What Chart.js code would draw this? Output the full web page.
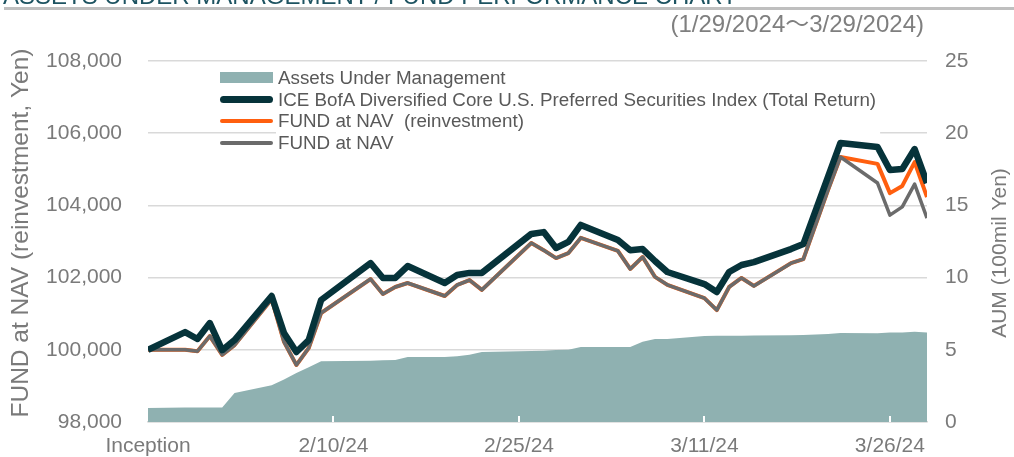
<!DOCTYPE html>
<html><head><meta charset="utf-8">
<script src="https://cdn.jsdelivr.net/npm/chart.js@4.4.1/dist/chart.umd.min.js"></script>
<style>
html,body{margin:0;padding:0;background:#fff;overflow:hidden;}
#wrap{position:relative;width:1014px;height:457px;font-family:"Liberation Sans",Arial,"Noto Sans CJK JP",sans-serif;overflow:hidden;}
#c{position:absolute;left:0;top:0;}
#title{position:absolute;left:3px;top:-16px;font-size:24px;line-height:24px;color:#1d5361;white-space:nowrap;}
#bar{position:absolute;left:4px;right:0;top:7px;height:3px;background:#bfbfbf;}
#range{position:absolute;right:90px;top:10px;font-size:24px;line-height:28px;color:#7f7f7f;white-space:nowrap;}
#legend{position:absolute;left:219px;top:67px;}
.row{display:flex;align-items:center;height:21.7px;}
.sw{width:59px;height:21.7px;position:relative;flex:none;}
.sw div{position:absolute;left:1px;width:53px;}
.tx{font-size:18.8px;line-height:21.7px;color:#595959;white-space:pre;}
</style>
</head><body>
<div id="wrap">
<canvas id="c" width="1014" height="457"></canvas>
<div id="title">ASSETS UNDER MANAGEMENT / FUND PERFORMANCE CHART</div>
<div id="bar"></div>
<div id="range">(1/29/2024～3/29/2024)</div>
<div id="legend"></div>
</div>
<script>
// ---- data ----
const dates = ['2024-01-26','2024-01-29','2024-01-30','2024-01-31','2024-02-01','2024-02-02',
  '2024-02-05','2024-02-06','2024-02-07','2024-02-08','2024-02-09','2024-02-13','2024-02-14',
  '2024-02-15','2024-02-16','2024-02-19','2024-02-20','2024-02-21','2024-02-22','2024-02-26',
  '2024-02-27','2024-02-28','2024-02-29','2024-03-01','2024-03-04','2024-03-05','2024-03-06',
  '2024-03-07','2024-03-08','2024-03-11','2024-03-12','2024-03-13','2024-03-14','2024-03-15',
  '2024-03-18','2024-03-19','2024-03-21','2024-03-22','2024-03-25','2024-03-26','2024-03-27',
  '2024-03-28','2024-03-29'];
const indexTR = [100000,100490,100300,100740,99990,100270,101490,100465,99940,100270,101380,
  102400,101990,101990,102320,101850,102070,102130,102130,103210,103260,102820,102990,103460,
  103040,102760,102790,102460,102155,101820,101600,102155,102350,102430,102790,102930,104800,
  105730,105620,104980,105010,105560,104620];
const navReinv = [100000,100000,99960,100380,99860,100130,101400,100220,99580,100050,101020,
  101960,101545,101740,101850,101490,101795,101930,101660,102960,102760,102540,102680,103100,
  102740,102240,102570,102020,101800,101430,101100,101740,101990,101770,102400,102510,104430,
  105340,105150,104340,104540,105200,104230];
const nav = [100000,100000,99960,100380,99860,100130,101400,100220,99580,100050,101020,
  101960,101545,101740,101850,101490,101795,101930,101660,102960,102760,102540,102680,103100,
  102740,102240,102570,102020,101800,101430,101100,101740,101990,101770,102400,102510,104430,
  105340,104620,103730,103960,104590,103650];
const aum = [0.97,1.0,1.0,1.0,1.0,2.0,2.55,2.95,3.4,3.8,4.2,4.25,4.27,4.3,4.5,4.5,4.55,4.65,4.85,
  4.92,4.94,4.99,5.0,5.2,5.2,5.2,5.55,5.75,5.75,5.95,5.97,5.98,5.98,5.99,6.0,6.02,6.1,6.17,6.15,
  6.2,6.2,6.25,6.2];
const seriesNames = ['Assets Under Management',
  'ICE BofA Diversified Core U.S. Preferred Securities Index (Total Return)',
  'FUND at NAV  (reinvestment)', 'FUND at NAV'];
const tickDates = ['2024-01-26','2024-02-10','2024-02-25','2024-03-11','2024-03-26'];
const tickLabels = ['Inception','2/10/24','2/25/24','3/11/24','3/26/24'];
const axisTitles = ['FUND at NAV (reinvestment, Yen)', 'AUM (100mil Yen)'];

// ---- helpers ----
const base = Date.parse(dates[0] + 'T00:00:00Z');
const dayOf = d => (Date.parse(d + 'T00:00:00Z') - base) / 86400000;
const pts = arr => dates.map((d, i) => ({x: dayOf(d), y: arr[i]}));

const FONT = '"Liberation Sans", Arial, sans-serif';
const TXT = '#7a7a7a';
const colors = {aum:'#8fb1b1', idx:'#06333a', reinv:'#ff5f0f', nav:'#6b6b6b'};

// ---- legend (HTML, built from series names) ----
const legend = document.getElementById('legend');
const sw = [
  {color: colors.aum, h: 11, r: 0},
  {color: colors.idx, h: 6.5, r: 3.5},
  {color: colors.reinv, h: 4, r: 2},
  {color: colors.nav, h: 4, r: 2}
];
seriesNames.forEach((name, i) => {
  const row = document.createElement('div'); row.className = 'row';
  const s = document.createElement('div'); s.className = 'sw';
  const inner = document.createElement('div');
  inner.style.height = sw[i].h + 'px';
  inner.style.top = ((21.7 - sw[i].h) / 2) + 'px';
  inner.style.background = sw[i].color;
  inner.style.borderRadius = sw[i].r + 'px';
  s.appendChild(inner);
  const t = document.createElement('span'); t.className = 'tx'; t.textContent = name;
  row.appendChild(s); row.appendChild(t);
  legend.appendChild(row);
});

const extras = {
  id: 'extras',
  beforeDatasetsDraw(chart) {
    // legend box background (under the plotted series, over gridlines)
    const txs = [...document.querySelectorAll('.tx')].map(e => e.getBoundingClientRect());
    const l = Math.min(...txs.map(r => r.left)) - 2;
    const r = Math.max(...txs.map(r => r.right)) + 4;
    const t = Math.min(...txs.map(r => r.top)) - 1;
    const b = Math.max(...txs.map(r => r.bottom)) + 1;
    const {ctx} = chart;
    ctx.save();
    ctx.fillStyle = '#ffffff';
    ctx.fillRect(l, t, r - l, b - t);
    ctx.restore();
  },
  afterDatasetsDraw(chart) {
    const {ctx, chartArea, scales} = chart;
    ctx.save();
    ctx.strokeStyle = '#ffffff';
    ctx.lineWidth = 2;
    scales.x.ticks.forEach((t, i) => {
      if (i === 0) return;
      const px = Math.round(scales.x.getPixelForValue(t.value));
      ctx.beginPath();
      ctx.moveTo(px, chartArea.bottom);
      ctx.lineTo(px, chartArea.bottom - 6);
      ctx.stroke();
    });
    ctx.restore();
  },
  afterDraw(chart) {
    const {ctx} = chart;
    const drawV = (text, size, x, y) => {
      ctx.save();
      ctx.fillStyle = TXT;
      ctx.font = size + 'px ' + FONT;
      ctx.textAlign = 'center';
      ctx.textBaseline = 'middle';
      ctx.translate(x, y);
      ctx.rotate(-Math.PI / 2);
      ctx.fillText(text, 0, 0);
      ctx.restore();
    };
    drawV(axisTitles[0], 24.5, 21, 233);
    drawV(axisTitles[1], 21, 1000, 253);
  }
};

const lineDs = (label, data, color, width, order) => ({
  label, data: pts(data), borderColor: color, borderWidth: width, pointRadius: 0,
  tension: 0, fill: false, yAxisID: 'y', order, borderJoinStyle: 'round', borderCapStyle: 'butt'
});

const fixY = w => s => { s.width = w; s.paddingTop = 0; s.paddingBottom = 0; };

new Chart(document.getElementById('c'), {
  type: 'line',
  data: {
    datasets: [
      {label: seriesNames[0], data: pts(aum), yAxisID: 'y1', fill: 'start',
       backgroundColor: colors.aum, borderWidth: 0, pointRadius: 0, tension: 0, order: 4},
      lineDs(seriesNames[1], indexTR, colors.idx, 6.5, 1),
      lineDs(seriesNames[2], navReinv, colors.reinv, 4, 3),
      lineDs(seriesNames[3], nav, colors.nav, 3.5, 2)
    ]
  },
  options: {
    responsive: false,
    animation: false,
    devicePixelRatio: 1,
    layout: {padding: {top: 61, left: 0, right: 0, bottom: 0}},
    plugins: {legend: {display: false}, tooltip: {enabled: false}},
    scales: {
      x: {
        type: 'linear', min: dayOf(dates[0]), max: dayOf(dates[dates.length - 1]),
        afterBuildTicks: s => { s.ticks = tickDates.map(d => ({value: dayOf(d)})); },
        afterFit: s => { s.height = 35; },
        grid: {display: false, drawTicks: false},
        border: {display: true, color: '#d9d9d9', width: 1.5},
        ticks: {color: TXT, font: {family: FONT, size: 21}, padding: 12, maxRotation: 0,
                autoSkip: false, callback: (v, i) => tickLabels[i]}
      },
      y: {
        position: 'left', min: 98000, max: 108000,
        afterFit: fixY(148),
        grid: {color: '#d9d9d9', lineWidth: 1.5, drawTicks: false},
        border: {display: false},
        ticks: {stepSize: 2000, color: TXT, font: {family: FONT, size: 21}, padding: 26,
                callback: v => v.toLocaleString('en-US')}
      },
      y1: {
        position: 'right', min: 0, max: 25,
        afterFit: fixY(87),
        grid: {drawOnChartArea: false, drawTicks: false},
        border: {display: false},
        ticks: {stepSize: 5, color: TXT, font: {family: FONT, size: 21}, padding: 18}
      }
    }
  },
  plugins: [extras]
});
</script>
</body></html>
